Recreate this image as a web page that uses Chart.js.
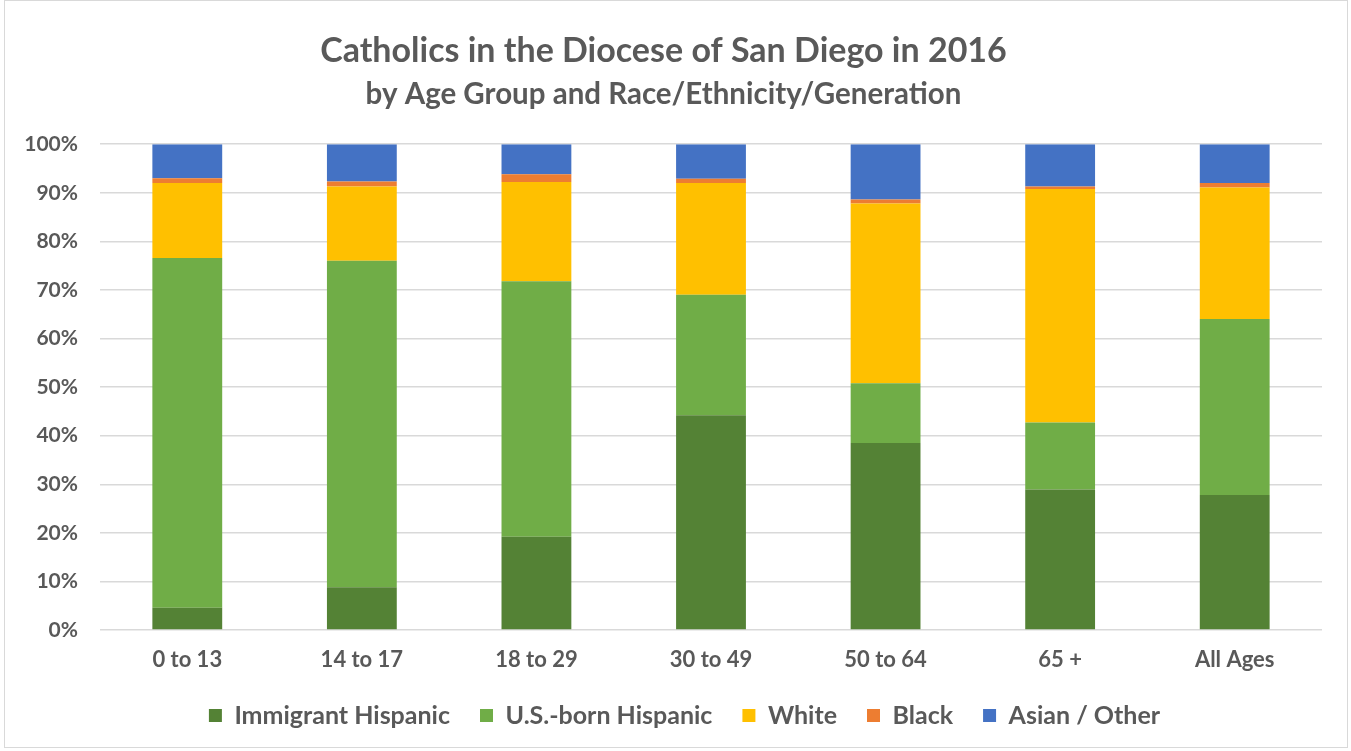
<!DOCTYPE html>
<html>
<head>
<meta charset="utf-8">
<script src="https://cdn.jsdelivr.net/npm/chart.js@4"></script>
<style>
  html, body { margin: 0; padding: 0; background: #fff; }
  #wrap { position: absolute; left: 4px; top: 0; width: 1344px; height: 748px; border: 1px solid #d9d9d9; box-sizing: border-box; }
</style>
</head>
<body>
<div id="wrap"><canvas id="mainChart"></canvas></div>
<script>
const ctx = document.getElementById("mainChart");

const ageGroups = ["0 to 13", "14 to 17", "18 to 29", "30 to 49", "50 to 64", "65 +", "All Ages"];

const immigrantHispanic = [4.6, 8.8, 19.2, 44.2, 38.5, 28.9, 27.8];
const usBornHispanic = [72.0, 67.2, 52.6, 24.8, 12.3, 13.8, 36.2];
const white = [15.4, 15.3, 20.4, 23.0, 37.0, 48.1, 27.1];
const black = [1.0, 1.0, 1.6, 0.9, 0.8, 0.5, 0.9];
const asianOther = [7.0, 7.7, 6.2, 7.1, 11.4, 8.7, 8.0];

const textColor = "#595959";
const fontFamily = "Lato, 'Open Sans', sans-serif";

/* one dataset per group */
function series(label, data, color) {
  return {
    label: label,
    data: data,
    backgroundColor: color,
    borderWidth: 0,
    barPercentage: 0.4,
    categoryPercentage: 1
  };
}

/* original legend is centred a little right of the canvas middle */
const legendShift = {
  id: "legendShift",
  afterLayout(chart) {
    chart.legend.left += 42;
  }
};

const config = {
  type: "bar",
  data: {
    labels: ageGroups,
    datasets: [
      series("Immigrant Hispanic", immigrantHispanic, "#548235"),
      series("U.S.-born Hispanic", usBornHispanic, "#70ad47"),
      series("White", white, "#ffc000"),
      series("Black", black, "#ed7d31"),
      series("Asian / Other", asianOther, "#4472c4")
    ]
  },
  options: {
    responsive: true,
    maintainAspectRatio: false,
    animation: false,
    layout: { padding: { left: 0, right: 25, top: 0, bottom: 9 } },
    plugins: {
      title: {
        display: true,
        text: "Catholics in the Diocese of San Diego in 2016",
        color: textColor,
        font: { family: fontFamily, size: 34, weight: "bold" },
        padding: { top: 30, bottom: 4 }
      },
      subtitle: {
        display: true,
        text: "by Age Group and Race/Ethnicity/Generation",
        color: textColor,
        font: { family: fontFamily, size: 29.5, weight: "bold" },
        padding: { top: 1, bottom: 32 }
      },
      legend: {
        position: "bottom",
        labels: {
          color: textColor,
          font: { family: fontFamily, size: 25, weight: "bold" },
          boxWidth: 13,
          boxHeight: 13,
          padding: 30
        }
      },
      tooltip: { enabled: false }
    },
    scales: {
      x: {
        stacked: true,
        grid: { display: false },
        border: { display: false },
        afterFit: (scale) => { scale.height = 43; },
        ticks: {
          color: textColor,
          font: { family: fontFamily, size: 22, weight: "bold" },
          padding: 9
        }
      },
      y: {
        stacked: true,
        min: 0,
        max: 100,
        border: { display: false },
        grid: { color: "#d9d9d9", lineWidth: 1.5, drawTicks: false },
        afterFit: (scale) => { scale.width = 95; },
        ticks: {
          stepSize: 10,
          color: textColor,
          font: { family: fontFamily, size: 21, weight: "bold" },
          padding: 22,
          callback: (v) => v + "%"
        }
      }
    }
  },
  plugins: [legendShift]
};

new Chart(ctx, config);
</script>
</body>
</html>
